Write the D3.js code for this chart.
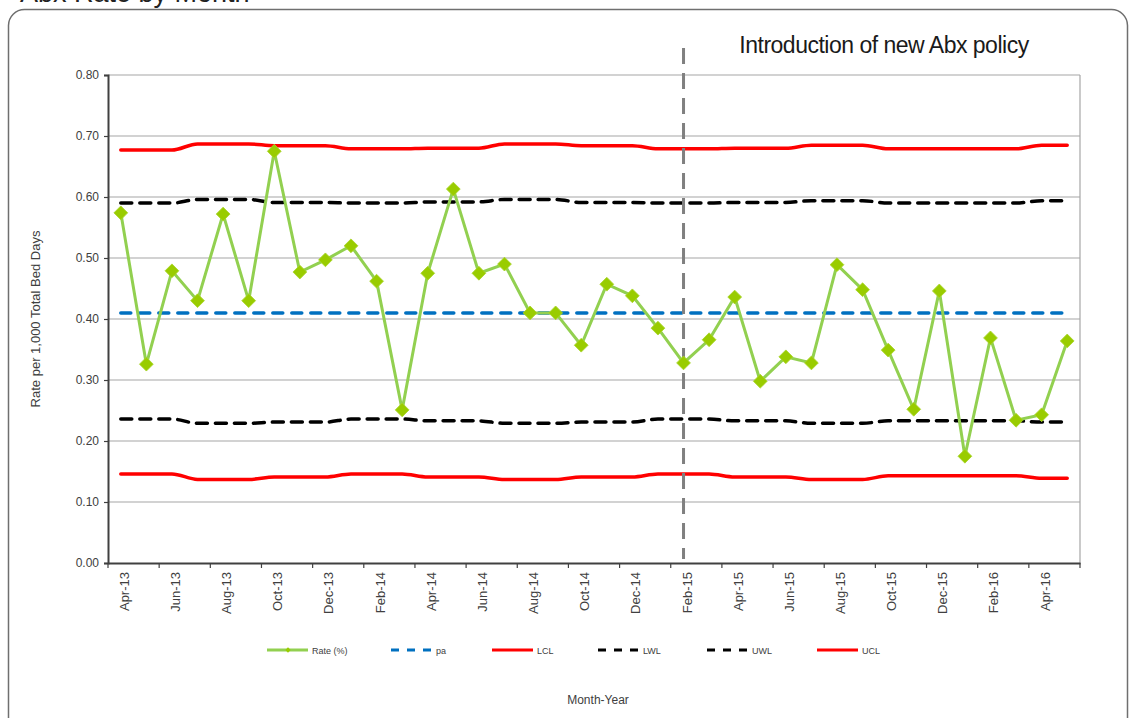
<!DOCTYPE html>
<html>
<head>
<meta charset="utf-8">
<script src="https://cdn.jsdelivr.net/npm/d3@7/dist/d3.min.js"></script>
<style>
  html, body { margin: 0; padding: 0; background: #fff; }
  svg { display: block; font-family: "Liberation Sans", Arial, sans-serif; }
</style>
</head>
<body>
<svg id="chart" width="1132" height="718"></svg>
<script>
// Monthly categories, April 2013 to May 2016
const months = [
  "Apr-13","May-13","Jun-13","Jul-13","Aug-13","Sep-13","Oct-13","Nov-13","Dec-13",
  "Jan-14","Feb-14","Mar-14","Apr-14","May-14","Jun-14","Jul-14","Aug-14","Sep-14","Oct-14","Nov-14","Dec-14",
  "Jan-15","Feb-15","Mar-15","Apr-15","May-15","Jun-15","Jul-15","Aug-15","Sep-15","Oct-15","Nov-15","Dec-15",
  "Jan-16","Feb-16","Mar-16","Apr-16","May-16"
];

// Observed rate per 1,000 total bed days
const rate = [
  0.574, 0.326, 0.479, 0.430, 0.572, 0.430, 0.675, 0.477, 0.497,
  0.520, 0.462, 0.251, 0.475, 0.613, 0.475, 0.490, 0.410, 0.410, 0.357, 0.457, 0.438,
  0.385, 0.328, 0.366, 0.436, 0.298, 0.338, 0.328, 0.489, 0.448, 0.349, 0.252, 0.446,
  0.175, 0.369, 0.234, 0.243, 0.364
];

// Centre line (mean proportion)
const pa = [
  0.41,0.41,0.41,0.41,0.41,0.41,0.41,0.41,0.41,
  0.41,0.41,0.41,0.41,0.41,0.41,0.41,0.41,0.41,0.41,0.41,0.41,
  0.41,0.41,0.41,0.41,0.41,0.41,0.41,0.41,0.41,0.41,0.41,0.41,
  0.41,0.41,0.41,0.41,0.41
];

// Control limits (3 sigma)
const ucl = [
  0.677,0.677,0.677,0.687,0.687,0.687,0.684,0.684,0.684,
  0.679,0.679,0.679,0.680,0.680,0.680,0.687,0.687,0.687,0.684,0.684,0.684,
  0.679,0.679,0.679,0.680,0.680,0.680,0.685,0.685,0.685,0.679,0.679,0.679,
  0.679,0.679,0.679,0.685,0.685
];
const lcl = [
  0.146,0.146,0.146,0.137,0.137,0.137,0.141,0.141,0.141,
  0.146,0.146,0.146,0.141,0.141,0.141,0.137,0.137,0.137,0.141,0.141,0.141,
  0.146,0.146,0.146,0.141,0.141,0.141,0.137,0.137,0.137,0.143,0.143,0.143,
  0.143,0.143,0.143,0.139,0.139
];

// Warning limits (2 sigma)
const uwl = [
  0.590,0.590,0.590,0.596,0.596,0.596,0.591,0.591,0.591,
  0.590,0.590,0.590,0.592,0.592,0.592,0.596,0.596,0.596,0.591,0.591,0.591,
  0.590,0.590,0.590,0.591,0.591,0.591,0.594,0.594,0.594,0.590,0.590,0.590,
  0.590,0.590,0.590,0.594,0.594
];
const lwl = [
  0.236,0.236,0.236,0.229,0.229,0.229,0.231,0.231,0.231,
  0.236,0.236,0.236,0.233,0.233,0.233,0.229,0.229,0.229,0.231,0.231,0.231,
  0.236,0.236,0.236,0.233,0.233,0.233,0.229,0.229,0.229,0.233,0.233,0.233,
  0.233,0.233,0.233,0.231,0.231
];

const yTicks = [0, 0.1, 0.2, 0.3, 0.4, 0.5, 0.6, 0.7, 0.8];
const xTickLabels = months.filter((m, i) => i % 2 === 0);
const policyMonth = "Feb-15";
const policyText = "Introduction of new Abx policy";

const legendItems = [
  { key: "Rate (%)", kind: "rate" },
  { key: "pa", kind: "pa" },
  { key: "LCL", kind: "cl" },
  { key: "LWL", kind: "wl" },
  { key: "UWL", kind: "wl" },
  { key: "UCL", kind: "cl" }
];

const svg = d3.select("#chart");
const plot = { left: 108, right: 1080, top: 75, bottom: 563 };

const x = d3.scaleBand().domain(months).range([plot.left, plot.right]);
const cx = m => x(m) + x.bandwidth() / 2;
const y = d3.scaleLinear().domain([0, 0.8]).range([plot.bottom, plot.top]);

// Outer rounded frame
svg.append("rect")
  .attr("x", 8.5).attr("y", 9.5)
  .attr("width", 1119).attr("height", 740)
  .attr("rx", 16).attr("ry", 16)
  .attr("fill", "none").attr("stroke", "#6f6f6f").attr("stroke-width", 1.5);

// Title (sits above the frame)
svg.append("text")
  .attr("x", 20).attr("y", 2)
  .attr("font-size", 27).attr("fill", "#222")
  .text("Abx Rate by Month");

// Horizontal gridlines
svg.append("g").selectAll("line")
  .data(yTicks.filter(d => d > 0))
  .join("line")
  .attr("x1", plot.left).attr("x2", plot.right)
  .attr("y1", d => y(d)).attr("y2", d => y(d))
  .attr("stroke", "#a6a6a6").attr("stroke-width", 1.2);

// Right edge of plot area
svg.append("line")
  .attr("x1", plot.right).attr("x2", plot.right)
  .attr("y1", plot.top).attr("y2", plot.bottom)
  .attr("stroke", "#a6a6a6").attr("stroke-width", 1.2);

// Y axis
const yAxis = svg.append("g")
  .attr("transform", `translate(${plot.left},0)`)
  .call(d3.axisLeft(y).tickValues(yTicks).tickFormat(d3.format(".2f")).tickSize(4).tickPadding(5));
yAxis.select(".domain").attr("stroke", "#404040").attr("stroke-width", 2);
yAxis.selectAll(".tick line").attr("stroke", "#404040").attr("stroke-width", 1.2);
yAxis.selectAll(".tick text")
  .attr("font-size", 12).attr("fill", "#404040")
  .attr("font-family", "Liberation Sans, Arial, sans-serif");

// Y axis title
svg.append("text")
  .attr("transform", `translate(40,${(plot.top + plot.bottom) / 2}) rotate(-90)`)
  .attr("text-anchor", "middle")
  .attr("font-size", 13).attr("fill", "#404040")
  .text("Rate per 1,000 Total Bed Days");

// X axis: labels on every other month, tick marks at category boundaries
const xAxis = svg.append("g")
  .attr("transform", `translate(0,${plot.bottom})`)
  .call(d3.axisBottom(x).tickValues(xTickLabels).tickSize(0).tickSizeOuter(0));
xAxis.select(".domain").attr("stroke", "#404040").attr("stroke-width", 2.2);
xAxis.selectAll(".tick text")
  .attr("font-size", 13).attr("fill", "#404040")
  .attr("font-family", "Liberation Sans, Arial, sans-serif")
  .attr("text-anchor", "end")
  .attr("dx", 0).attr("dy", 0)
  .attr("transform", "translate(5,9) rotate(-90)");

const boundaryTicks = months.filter((m, i) => i % 2 === 0).map(m => x(m)).concat([plot.right]);
svg.append("g").selectAll("line")
  .data(boundaryTicks)
  .join("line")
  .attr("x1", d => d).attr("x2", d => d)
  .attr("y1", plot.bottom).attr("y2", plot.bottom + 5)
  .attr("stroke", "#404040").attr("stroke-width", 1.2);

// Limit and centre lines, smoothed between quarterly steps
const smooth = d3.line()
  .x((d, i) => cx(months[i]))
  .y(d => y(d))
  .curve(d3.curveMonotoneX);

const series = [
  { data: ucl, color: "#ff0000", dash: null },
  { data: lcl, color: "#ff0000", dash: null },
  { data: uwl, color: "#000000", dash: "11,8" },
  { data: lwl, color: "#000000", dash: "11,8" },
  { data: pa, color: "#0070c0", dash: "10,9" }
];
svg.append("g").selectAll("path")
  .data(series)
  .join("path")
  .attr("d", d => smooth(d.data))
  .attr("fill", "none")
  .attr("stroke", d => d.color)
  .attr("stroke-width", 3.5)
  .attr("stroke-linecap", "round")
  .attr("stroke-dasharray", d => d.dash);

// Policy change marker
svg.append("line")
  .attr("x1", cx(policyMonth)).attr("x2", cx(policyMonth))
  .attr("y1", 48).attr("y2", plot.bottom - 4)
  .attr("stroke", "#808080").attr("stroke-width", 3)
  .attr("stroke-dasharray", "16,9");

svg.append("text")
  .attr("x", 884).attr("y", 53)
  .attr("text-anchor", "middle")
  .attr("font-size", 23).attr("fill", "#1a1a1a")
  .attr("letter-spacing", -0.5)
  .text(policyText);

// Rate line with diamond markers
const rateLine = d3.line()
  .x((d, i) => cx(months[i]))
  .y(d => y(d));
svg.append("path")
  .attr("d", rateLine(rate))
  .attr("fill", "none")
  .attr("stroke", "#92d050")
  .attr("stroke-width", 3);

svg.append("g").selectAll("path")
  .data(rate)
  .join("path")
  .attr("transform", (d, i) => `translate(${cx(months[i])},${y(d)}) rotate(45)`)
  .attr("d", d3.symbol().type(d3.symbolSquare).size(95))
  .attr("fill", "#99cc00")
  .attr("stroke", "#a9d42a")
  .attr("stroke-width", 0.8);

// Legend
const legendX = [267, 391, 492, 598, 707, 817];
const legend = svg.append("g").attr("transform", "translate(0,650)");
legendItems.forEach((item, i) => {
  const g = legend.append("g").attr("transform", `translate(${legendX[i]},0)`);
  let color = "#ff0000", dash = null;
  if (item.kind === "rate") color = "#92d050";
  if (item.kind === "pa") { color = "#0070c0"; dash = "8,8"; }
  if (item.kind === "wl") { color = "#000000"; dash = "8,8"; }
  g.append("line")
    .attr("x1", 0).attr("x2", 41)
    .attr("y1", 0).attr("y2", 0)
    .attr("stroke", color).attr("stroke-width", 3)
    .attr("stroke-dasharray", dash);
  if (item.kind === "rate") {
    g.append("path")
      .attr("transform", "translate(21,0) rotate(45)")
      .attr("d", d3.symbol().type(d3.symbolSquare).size(14))
      .attr("fill", "#99cc00");
  }
  g.append("text")
    .attr("x", 45).attr("y", 3.5)
    .attr("font-size", 9).attr("fill", "#404040")
    .text(item.key);
});

// X axis title
svg.append("text")
  .attr("x", 598).attr("y", 704)
  .attr("text-anchor", "middle")
  .attr("font-size", 12).attr("fill", "#404040")
  .text("Month-Year");
</script>
</body>
</html>
